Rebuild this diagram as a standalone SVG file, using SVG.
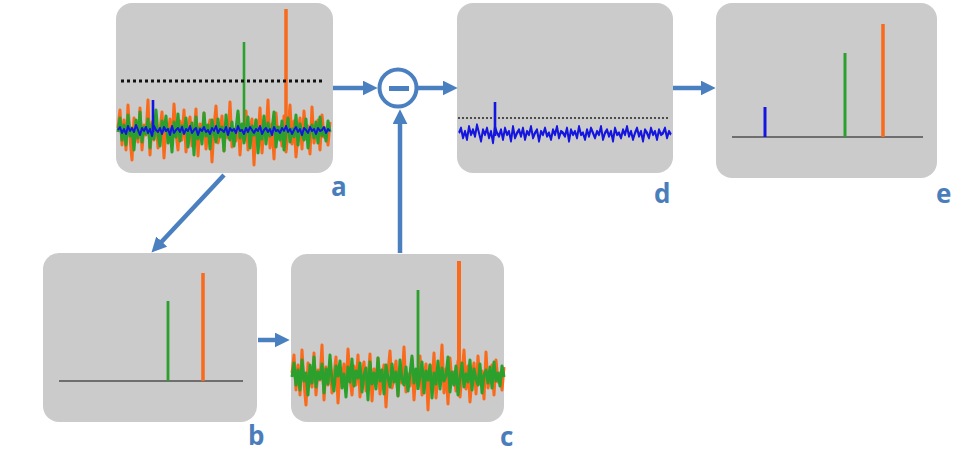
<svg xmlns="http://www.w3.org/2000/svg" xmlns:xlink="http://www.w3.org/1999/xlink" width="968" height="458" viewBox="0 0 968 458">
<style>
.panel{fill:#cbcbcb;}
.conn{stroke:#4a7fc0;stroke-width:4.5;fill:none;}
.lbl{font-family:"Open Sans","Liberation Sans",sans-serif;font-weight:bold;font-size:26px;fill:#4a7ebb;}
.base{stroke:#6e6e6e;stroke-width:2;}
.or{stroke:#f96a1c;fill:none;stroke-linejoin:round;}
.gr{stroke:#2ca02c;fill:none;stroke-linejoin:round;}
.bl{stroke:#1515e0;fill:none;stroke-linejoin:round;}
</style>
<defs>
<marker id="ah" markerUnits="userSpaceOnUse" viewBox="0 0 14 14" markerWidth="15" markerHeight="15" refX="4" refY="7" orient="auto">
<path d="M0,0 L14,7 L0,14 z" fill="#4a7fc0"/>
</marker>
<polyline id="nOr" stroke-width="3" points="118,128 120,110 122,145 124,120 126,150 128,105 130,138 132,160 134,118 136,132 138,142 140,108 142,150 144,125 146,135 148,100 150,155 152,122 154,140 156,115 158,148 160,130 162,112 164,158 166,126 168,137 170,119 172,145 174,104 176,133 178,150 180,121 182,140 184,110 186,152 188,128 190,117 192,146 194,135 196,109 198,156 200,124 202,139 204,113 206,149 208,131 210,120 212,162 214,127 216,106 218,143 220,134 222,116 224,151 226,122 228,138 230,102 232,147 234,129 236,141 238,114 240,155 242,125 244,136 246,111 248,150 250,132 252,119 254,165 256,120 258,140 260,108 262,153 264,128 266,135 268,100 270,148 272,124 274,159 276,113 278,138 280,127 282,146 284,116 286,152 288,130 290,105 292,144 294,121 296,157 298,133 300,118 302,149 304,111 306,139 308,126 310,154 312,107 314,143 316,131 318,120 320,150 322,115 324,137 326,128 328,145 330,122"/>
<polyline id="nGr" stroke-width="3" points="118,132 120,118 122,140 124,125 126,145 128,115 130,136 132,128 134,150 136,120 138,138 140,112 142,142 144,127 146,134 148,119 150,148 152,124 154,139 156,110 158,135 160,146 162,121 164,131 166,116 168,143 170,129 172,152 174,122 176,137 178,114 180,141 182,126 184,133 186,118 188,147 190,130 192,123 194,155 196,117 198,139 200,128 202,144 204,113 206,136 208,125 210,149 212,120 214,133 216,142 218,119 220,137 222,127 224,151 226,115 228,134 230,140 232,122 234,146 236,129 238,111 240,138 242,124 244,143 246,131 248,117 250,148 252,126 254,135 256,120 258,153 260,128 262,139 264,116 266,144 268,123 270,136 272,131 274,112 276,147 278,127 280,140 282,121 284,150 286,133 288,118 290,142 292,129 294,137 296,115 298,145 300,124 302,134 304,140 306,119 308,148 310,130 312,125 314,138 316,122 318,143 320,117 322,136 324,128 326,141 328,121 330,132"/>
<polyline id="nBl" stroke-width="2" points="118,130 120,127 122,133 124,129 126,134 128,126 130,131 132,128 134,132 136,125 138,130 140,135 142,128 144,131 146,127 148,133 150,129 152,136 154,126 156,130 158,132 160,128 162,134 164,127 166,131 168,129 170,135 172,126 174,133 176,130 178,128 180,132 182,127 184,134 186,129 188,131 190,126 192,133 194,130 196,128 198,135 200,129 202,131 204,127 206,132 208,130 210,134 212,128 214,131 216,126 218,133 220,129 222,130 224,132 226,127 228,135 230,128 232,131 234,129 236,133 238,126 240,131 242,130 244,134 246,128 248,132 250,127 252,130 254,133 256,129 258,131 260,126 262,134 264,130 266,128 268,132 270,129 272,135 274,127 276,131 278,130 280,133 282,128 284,131 286,126 288,132 290,129 292,134 294,130 296,127 298,132 300,129 302,135 304,128 306,130 308,133 310,127 312,131 314,129 316,134 318,128 320,131 322,130 324,127 326,133 328,129 330,131"/>
</defs>

<g id="a">
<rect class="panel" x="116" y="3" width="217" height="170" rx="16"/>
<use xlink:href="#nOr" class="or"/>
<line class="or" x1="286" y1="150" x2="286" y2="9" stroke-width="3.5"/>
<use xlink:href="#nGr" class="gr"/>
<line class="gr" x1="244" y1="140" x2="244" y2="42" stroke-width="2.6"/>
<use xlink:href="#nBl" class="bl"/>
<line class="bl" x1="153" y1="132" x2="153" y2="100" stroke-width="2.6"/>
<line x1="121" y1="81" x2="322" y2="81" stroke="#111" stroke-width="2.8" stroke-dasharray="3,3"/>
<text class="lbl" x="331" y="196">a</text>
</g>

<g id="b">
<rect class="panel" x="43" y="253" width="214" height="169" rx="16"/>
<line class="base" x1="59" y1="381" x2="243" y2="381"/>
<line class="gr" x1="168" y1="381" x2="168" y2="301" stroke-width="2.8"/>
<line class="or" x1="203" y1="381" x2="203" y2="273" stroke-width="3.5"/>
<text class="lbl" x="248" y="445">b</text>
</g>

<g id="c">
<rect class="panel" x="291" y="254" width="213" height="168" rx="16"/>
<use xlink:href="#nOr" class="or" transform="translate(174,245)"/>
<line class="or" x1="459" y1="395" x2="459" y2="261" stroke-width="4"/>
<use xlink:href="#nGr" class="gr" transform="translate(174,245)"/>
<line class="gr" x1="418" y1="390" x2="418" y2="290" stroke-width="2.8"/>
<text class="lbl" x="500" y="446">c</text>
</g>

<g id="d">
<rect class="panel" x="457" y="3" width="216" height="170" rx="16"/>
<line x1="458" y1="118" x2="670" y2="118" stroke="#222" stroke-width="1.6" stroke-dasharray="2,2"/>
<use xlink:href="#nBl" class="bl" transform="translate(341,133) scale(1,1.6) translate(0,-130)" style="vector-effect:non-scaling-stroke"/>
<line class="bl" x1="495" y1="136" x2="495" y2="102" stroke-width="2.6"/>
<text class="lbl" x="654" y="203">d</text>
</g>

<g id="e">
<rect class="panel" x="716" y="3" width="221" height="175" rx="16"/>
<line class="base" x1="732" y1="137" x2="923" y2="137"/>
<line class="bl" x1="765" y1="137" x2="765" y2="107" stroke-width="3"/>
<line class="gr" x1="845" y1="137" x2="845" y2="53" stroke-width="3"/>
<line class="or" x1="883" y1="137" x2="883" y2="24" stroke-width="3.5"/>
<text class="lbl" x="936" y="203">e</text>
</g>

<g id="minus">
<circle cx="398" cy="88" r="18.5" fill="#fff" stroke="#4a7fc0" stroke-width="4"/>
<rect x="389" y="86" width="20" height="5" fill="#4a7fc0"/>
</g>

<g id="connectors">
<line class="conn" x1="333" y1="88" x2="367" y2="88" marker-end="url(#ah)"/>
<line class="conn" x1="418" y1="88" x2="447" y2="88" marker-end="url(#ah)"/>
<line class="conn" x1="673" y1="88" x2="705" y2="88" marker-end="url(#ah)"/>
<line class="conn" x1="258" y1="340" x2="279" y2="340" marker-end="url(#ah)"/>
<line class="conn" x1="400" y1="253" x2="400" y2="120" marker-end="url(#ah)"/>
<line class="conn" x1="224" y1="175" x2="158.8" y2="244.7" marker-end="url(#ah)"/>
</g>
</svg>
